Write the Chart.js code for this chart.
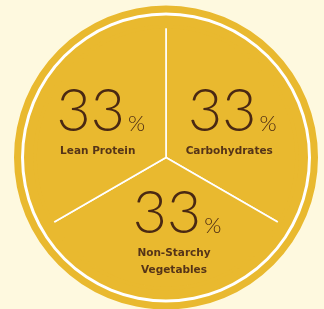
<!DOCTYPE html>
<html>
<head>
<meta charset="utf-8">
<script src="https://cdn.jsdelivr.net/npm/chart.js@4"></script>
<style>
  html, body { margin:0; padding:0; background:#FEF9DF; }
  #wrap { width:324px; height:309px; }
</style>
</head>
<body>
<div id="wrap"><canvas id="c" width="324" height="309"></canvas></div>
<script>
// Data
const categories = ['Carbohydrates', 'Non-Starchy Vegetables', 'Lean Protein'];
const labelLines = [['Carbohydrates'], ['Non-Starchy', 'Vegetables'], ['Lean Protein']];
const shares = [33.3, 33.3, 33.3];
const shareText = ['33', '33', '33'];

const YELLOW = '#E9B92F';
const BROWN = '#4A2913';

const labelPlugin = {
  id: 'sliceLabels',
  afterDatasetsDraw(chart, args, opts) {
    const meta = chart.getDatasetMeta(3);
    const ctx = chart.ctx;
    ctx.save();
    meta.data.forEach((arc, i) => {
      const p = arc.getProps(['x','y','startAngle','endAngle','outerRadius'], true);
      const mid = (p.startAngle + p.endAngle) / 2;
      const r = p.outerRadius * opts.radiusFrac;
      const nudge = opts.nudge[i] || [0,0];
      const cx = p.x + Math.cos(mid) * r + nudge[0];
      const cy = p.y + Math.sin(mid) * r + nudge[1];
      const lines = labelLines[i];
      const H = opts.numCap + opts.firstGap + opts.lineGap * (lines.length - 1);
      const top = cy - H / 2;
      const base = top + opts.numCap;
      ctx.fillStyle = BROWN;
      ctx.textBaseline = 'alphabetic';
      ctx.font = opts.numFont;
      const nw = ctx.measureText(shareText[i]).width;
      ctx.font = opts.pctFont;
      const pw = ctx.measureText('%').width;
      const gw = nw + opts.pctGap + pw;
      const gx = cx - gw / 2;
      ctx.textAlign = 'left';
      ctx.font = opts.numFont;
      ctx.fillText(shareText[i], gx, base);
      ctx.font = opts.pctFont;
      ctx.fillText('%', gx + nw + opts.pctGap, base);
      ctx.font = opts.labFont;
      ctx.fillStyle = '#553418';
      ctx.textAlign = 'center';
      lines.forEach((ln, k) => {
        ctx.fillText(ln, cx + opts.labDx, base + opts.firstGap + k * opts.lineGap);
      });
    });
    ctx.restore();
  }
};

new Chart(document.getElementById('c'), {
  type: 'pie',
  data: {
    labels: categories,
    datasets: [
      { data: [1], backgroundColor: YELLOW, borderWidth: 0, weight: 7 },
      { data: [1], backgroundColor: '#FFFFFF', borderWidth: 0, weight: 3 },
      { data: [1], backgroundColor: YELLOW, borderColor: YELLOW, borderWidth: 3.5, weight: 11 },
      { data: shares, backgroundColor: YELLOW, borderColor: '#FFFFFF', borderWidth: 1.6, weight: 131 }
    ]
  },
  options: {
    responsive: false,
    animation: false,
    radius: 152,
    events: [],
    layout: { padding: { left: 8, right: 0, top: 6, bottom: 0 } },
    plugins: {
      legend: { display: false },
      tooltip: { enabled: false },
      sliceLabels: {
        radiusFrac: 0.575,
        nudge: [[1, 1], [11, -1], [0, 1]],
        numCap: 43,
        firstGap: 23,
        lineGap: 17,
        pctGap: 3,
        labDx: -3,
        numFont: '300 59px Lato, "Open Sans", sans-serif',
        pctFont: '300 22px Lato, "Open Sans", sans-serif',
        labFont: 'bold 10.5px "DejaVu Sans", sans-serif'
      }
    }
  },
  plugins: [labelPlugin]
});
</script>
</body>
</html>
